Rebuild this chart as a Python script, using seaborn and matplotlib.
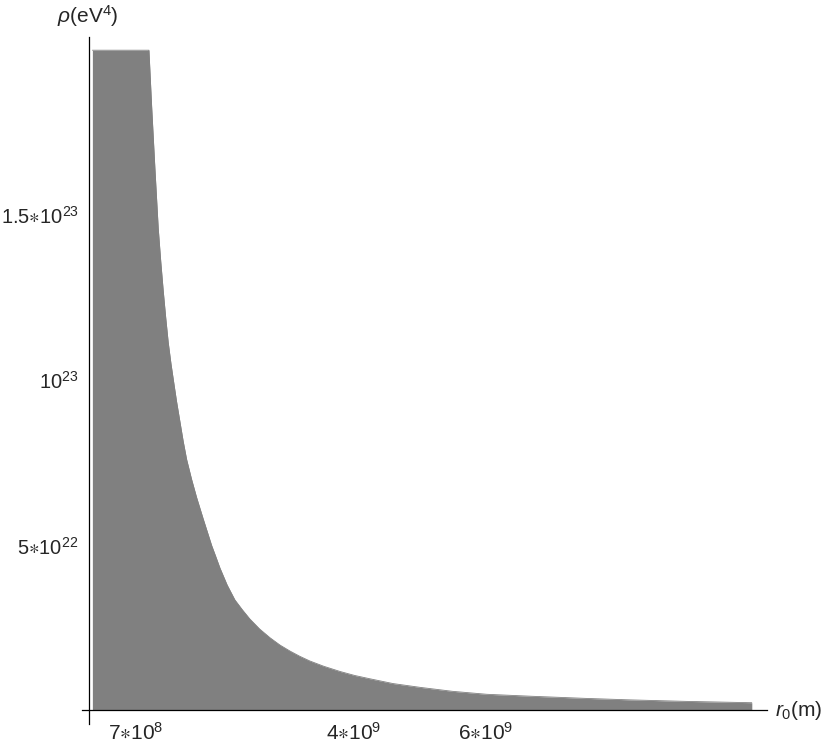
import numpy as np
import matplotlib
matplotlib.use("Agg")
import matplotlib.pyplot as plt
import seaborn as sns

# Boundary of the allowed region
# r0 in units of 1e9 m, rho in units of 1e22 eV^4
r0_1e9 = [0.05, 0.906, 0.947, 0.997, 1.047, 1.085, 1.123, 1.16, 1.198,
          1.24, 1.284, 1.325, 1.375, 1.425, 1.477, 1.552, 1.628, 1.728,
          1.855, 1.92, 1.98, 2.09, 2.207, 2.32, 2.434, 2.58, 2.74, 2.89,
          3.04, 3.19, 3.34, 3.55, 3.80, 4.02, 4.25, 4.6, 5.01, 5.5, 6.02,
          6.7, 7.53, 8.2, 9.04, 10.03]
rho_1e22 = [20.0, 20.0, 18.3, 16.4, 14.6, 13.6, 12.7, 11.9, 11.15,
            10.5, 9.9, 9.35, 8.75, 8.15, 7.6, 7.0, 6.45, 5.8,
            5.0, 4.65, 4.32, 3.8, 3.35, 3.05, 2.77, 2.47, 2.20, 1.98,
            1.80, 1.64, 1.50, 1.34, 1.18, 1.06, 0.96, 0.815, 0.70, 0.58, 0.49,
            0.43, 0.365, 0.32, 0.275, 0.235]

x_ticks = [7e8, 4e9, 6e9]
x_labels = ["$7\u221710^{8}$", "$4\u221710^{9}$", "$6\u221710^{9}$"]
y_ticks = [5e22, 1e23, 1.5e23]
y_labels = ["$5\u221710^{22}$", "$10^{23}$", "$1.5\u221710^{23}$"]

r0 = np.array(r0_1e9) * 1e9
rho = np.array(rho_1e22) * 1e22

# Style

sns.set_theme(style="white")
plt.rcParams["font.family"] = ["Liberation Sans", "DejaVu Sans"]
plt.rcParams["mathtext.fontset"] = "custom"
plt.rcParams["mathtext.rm"] = "Liberation Sans"
plt.rcParams["mathtext.it"] = "Liberation Sans:italic"
plt.rcParams["mathtext.fallback"] = "cm"

fill = "#808080"
fs = 15

fig = plt.figure(figsize=(8.3, 7.45), dpi=100)
ax = fig.add_axes([82 / 830, 1 - 724 / 745, (767 - 82) / 830, (724 - 37) / 745])

# Region

ax.fill_between(r0, 0, rho, color=fill, linewidth=0)
sns.lineplot(x=r0, y=rho, color=fill, linewidth=0.6, ax=ax)

ax.set_xlim(-0.107e9, 10.26e9)
ax.set_ylim(-4.1e21, 2.04e23)

# Axes crossing at the origin

for side in ["top", "right"]:
    ax.spines[side].set_visible(False)
ax.spines["left"].set_position(("data", 0))
ax.spines["bottom"].set_position(("data", 0))
for side in ["left", "bottom"]:
    ax.spines[side].set_color("black")
    ax.spines[side].set_linewidth(0.9)
    ax.spines[side].set_zorder(5)

ax.set_xticks(x_ticks)
ax.set_xticklabels(x_labels, fontsize=fs)
ax.set_yticks(y_ticks)
ax.set_yticklabels(y_labels, fontsize=14.5)

ax.tick_params(axis="x", direction="out", length=5, width=2, color="#999999", pad=3)
ax.tick_params(axis="y", direction="inout", length=5, width=2, color="#999999", pad=5)

ax.grid(False)
ax.set_facecolor("white")

fig.text(57 / 830, 1 - 16 / 745, r"$\it{\rho}$(eV$^{4}$)", fontsize=fs,
         ha="left", va="center")
fig.text(775 / 830, 1 - 711 / 745, r"$\it{r}_{0}$(m)", fontsize=fs,
         ha="left", va="center")

plt.savefig("out.png", dpi=100)
